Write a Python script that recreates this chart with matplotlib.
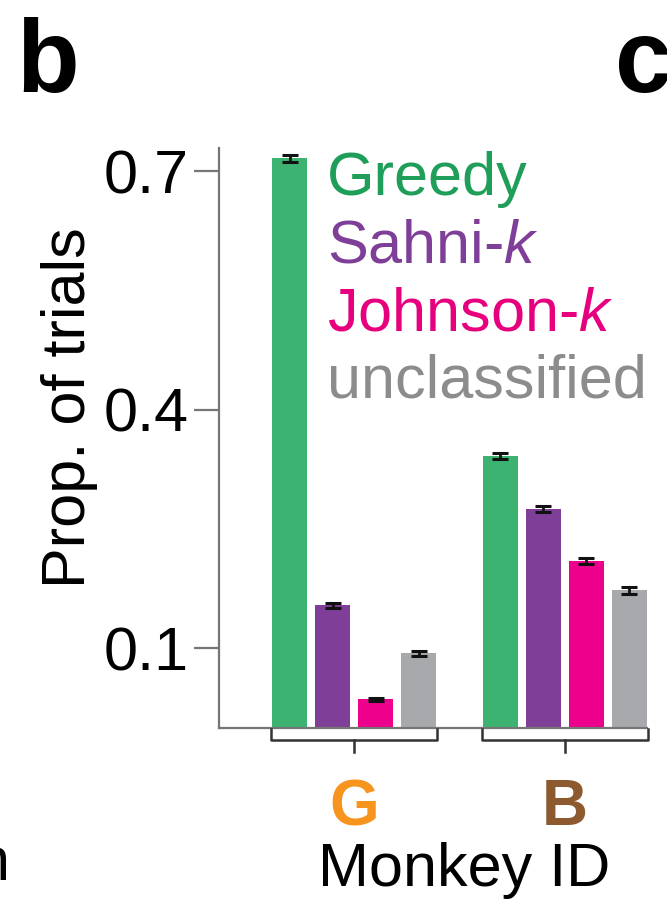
import numpy as np
import matplotlib
matplotlib.use("Agg")
import matplotlib.pyplot as plt

plt.rcParams["font.family"] = ["Liberation Sans", "DejaVu Sans"]
plt.rcParams["mathtext.fontset"] = "custom"
plt.rcParams["mathtext.rm"] = "Liberation Sans"
plt.rcParams["mathtext.it"] = "Liberation Sans:italic"

# proportion of trials per strategy, per monkey
monkeys = ["G", "B"]
monkey_colors = ["#f7941d", "#8c5a2e"]
strategies = ["Greedy", "Sahni-$\\mathit{k}$", "Johnson-$\\mathit{k}$", "unclassified"]
strategy_colors = ["#3cb371", "#7f3f98", "#ec008c", "#a7a9ac"]
text_colors = ["#1f9e5a", "#7f3f98", "#e6007e", "#8c8c8c"]
props = {
    "G": [0.716, 0.154, 0.036, 0.094],
    "B": [0.342, 0.275, 0.210, 0.173],
}
sems = {
    "G": [0.004, 0.003, 0.002, 0.003],
    "B": [0.004, 0.004, 0.004, 0.004],
}
yticks = [0.1, 0.4, 0.7]

fig = plt.figure(figsize=(6.67, 8.99), dpi=100)
ax = fig.add_axes([0.3283, 0.1902, 0.6417, 0.6452])

group_centers = np.array([0.0, 4.9])
offsets = np.array([-1.5, -0.5, 0.5, 1.5])
width = 0.81

for gi, m in enumerate(monkeys):
    xs = group_centers[gi] + offsets
    ax.bar(xs, props[m], width=width, color=strategy_colors, edgecolor="none", zorder=2)
    ax.errorbar(xs, props[m], yerr=sems[m], fmt="none", ecolor="#111111",
                elinewidth=2, capsize=6, capthick=2.2, zorder=3)

    # bracket under each group
    x0 = xs[0] - width / 2 - 0.02
    x1 = xs[-1] + width / 2 + 0.02
    ax.plot([x0, x0, x1, x1], [-0.0015, -0.015, -0.015, -0.0015],
            color="#333333", lw=1.8, clip_on=False, zorder=4)
    ax.plot([group_centers[gi]] * 2, [-0.015, -0.030],
            color="#333333", lw=1.8, clip_on=False, zorder=4)

ax.set_xlim(-3.14, 6.81)
ax.set_ylim(0, 0.729)

for s in ["top", "right"]:
    ax.spines[s].set_visible(False)
for s in ["left", "bottom"]:
    ax.spines[s].set_color("#767676")
    ax.spines[s].set_linewidth(1.6)

ax.set_yticks(yticks)
ax.set_yticklabels([f"{v:.1f}" for v in yticks])
ax.tick_params(axis="y", length=18, width=1.6, color="#767676",
               labelsize=44, pad=4)

ax.set_xticks(group_centers)
ax.set_xticklabels(monkeys, fontsize=46, fontweight="bold")
ax.tick_params(axis="x", length=0, pad=36)
for lbl, c in zip(ax.get_xticklabels(), monkey_colors):
    lbl.set_color(c)

ax.set_xlabel("Monkey ID", fontsize=44, labelpad=2)
ax.xaxis.set_label_coords(0.573, -0.272)
ax.xaxis.label.set_va("baseline")

ax.set_ylabel("Prop. of trials", fontsize=44)
ax.yaxis.set_label_coords(-0.283, 0.552)

# strategy labels in place of a legend
for name, c, yb in zip(strategies, text_colors, [0.919, 0.802, 0.686, 0.569]):
    ax.text(0.252, yb, name, color=c, fontsize=44, va="baseline", ha="left",
            transform=ax.transAxes)

fig.text(16 / 667, 1 - 92 / 899, "b", fontsize=74, fontweight="bold",
         va="baseline", ha="left")
fig.text(615 / 667, 1 - 92 / 899, "c", fontsize=74, fontweight="bold",
         va="baseline", ha="left")
fig.text(-24 / 667, 1 - 880 / 899, "n", fontsize=44, va="baseline", ha="left")

fig.savefig("out.png", dpi=100, facecolor="white")
